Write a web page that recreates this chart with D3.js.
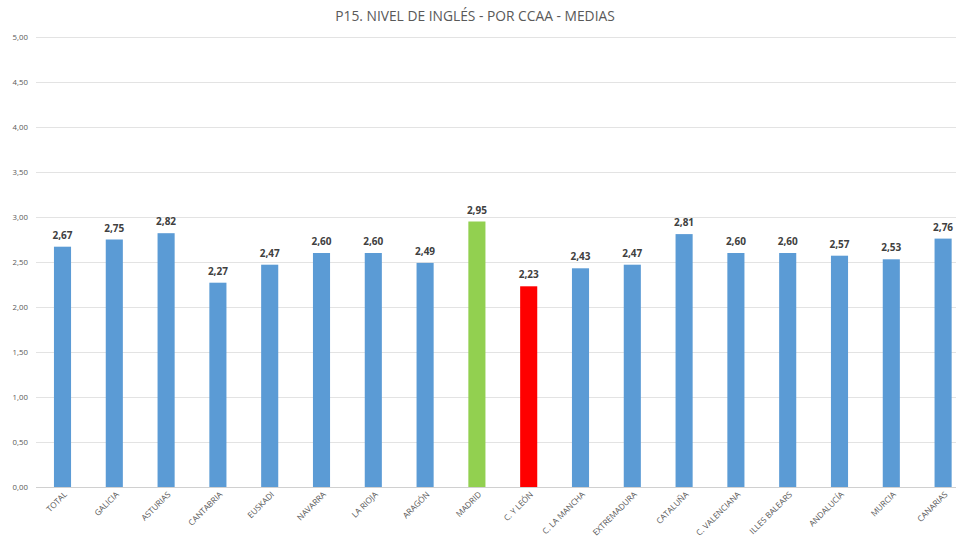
<!DOCTYPE html>
<html><head><meta charset="utf-8">
<script src="https://cdn.jsdelivr.net/npm/d3@7"></script>
<style>body{margin:0;background:#fff}svg{display:block}</style>
</head><body><svg id="c" width="956" height="538"></svg>
<script>
const title = "P15. NIVEL DE INGLÉS - POR CCAA - MEDIAS";
const categories = ["TOTAL","GALICIA","ASTURIAS","CANTABRIA","EUSKADI","NAVARRA","LA RIOJA","ARAGÓN","MADRID","C. Y LEÓN","C. LA MANCHA","EXTREMADURA","CATALUÑA","C. VALENCIANA","ILLES BALEARS","ANDALUCÍA","MURCIA","CANARIAS"];
const values = [2.67,2.75,2.82,2.27,2.47,2.60,2.60,2.49,2.95,2.23,2.43,2.47,2.81,2.60,2.60,2.57,2.53,2.76];
const highlight = {"MADRID":"#92D050","C. Y LEÓN":"#FF0000"};
const baseColor = "#5B9BD5";
const yTicks = [0,0.5,1,1.5,2,2.5,3,3.5,4,4.5,5];

const svg = d3.select("#c");
const font = "'Open Sans', 'Liberation Sans', sans-serif";
const fmt = v => d3.format(".2f")(v).replace(".", ",");

const x = d3.scaleBand().domain(categories).range([36.6, 969]).paddingInner(0.67).paddingOuter(0.335);
const y = d3.scaleLinear().domain([0,5]).range([487, 37]);

svg.append("text").attr("x",475).attr("y",20.5).attr("text-anchor","middle")
  .attr("font-family",font).attr("font-size",13.8).attr("fill","#595959").text(title);

const g = svg.append("g");
g.selectAll("line.grid").data(yTicks).join("line")
  .attr("x1",36).attr("x2",956).attr("y1",d=>y(d)+0.5).attr("y2",d=>y(d)+0.5)
  .attr("stroke", d=> d===0 ? "#d0d0d0" : "#e3e3e3").attr("stroke-width",1);

g.selectAll("text.yt").data(yTicks).join("text")
  .attr("x",28).attr("y",d=>y(d)).attr("dy","0.35em").attr("text-anchor","end")
  .attr("font-family",font).attr("font-size",7.8).attr("fill","#595959").text(fmt);

g.selectAll("rect.bar").data(categories).join("rect")
  .attr("x",d=>x(d)).attr("width",x.bandwidth())
  .attr("y",(d,i)=>y(values[i])).attr("height",(d,i)=>y(0)-y(values[i]))
  .attr("fill",d=>highlight[d]||baseColor);

g.selectAll("text.val").data(categories).join("text")
  .attr("x",d=>x(d)+x.bandwidth()/2).attr("y",(d,i)=>y(values[i])-8)
  .attr("text-anchor","middle").attr("font-family",font).attr("font-weight","bold")
  .attr("font-size",10).attr("fill","#404040").text((d,i)=>fmt(values[i]));

g.selectAll("text.xl").data(categories).join("text")
  .attr("transform",d=>`translate(${x(d)+x.bandwidth()/2+3},${493}) rotate(-45)`)
  .attr("text-anchor","end").attr("dy","0.35em")
  .attr("font-family",font).attr("font-size",8.2).attr("fill","#595959").text(d=>d);
</script></body></html>
